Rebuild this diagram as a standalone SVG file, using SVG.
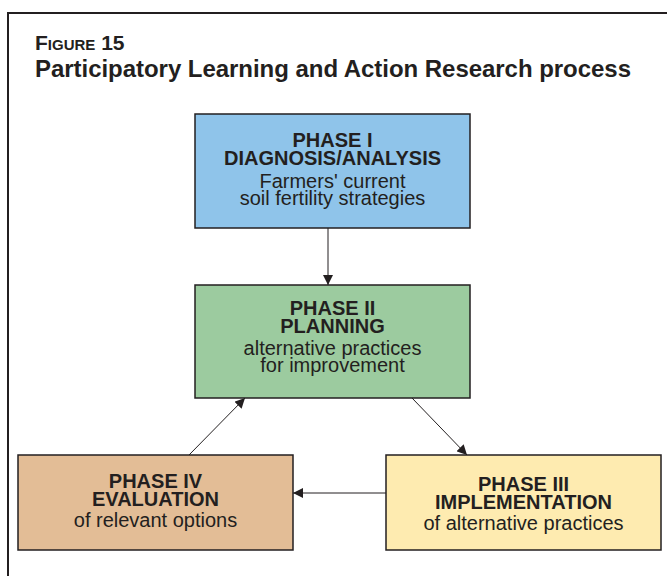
<svg xmlns="http://www.w3.org/2000/svg" width="667" height="576" viewBox="0 0 667 576">
  <defs>
    <marker id="arrow" viewBox="0 0 10 10" refX="10" refY="5" markerWidth="10" markerHeight="10" markerUnits="userSpaceOnUse" orient="auto">
      <path d="M0,0 L10,5 L0,10 z" fill="#231f20"/>
    </marker>
    <style>
      .box { stroke: #231f20; stroke-width: 1.5; }
      .t { font-family: "Liberation Sans", Arial, sans-serif; fill: #231f20; text-anchor: middle; font-size: 20px; }
      .b { font-weight: bold; }
      .link { stroke: #231f20; stroke-width: 1; fill: none; marker-end: url(#arrow); }
    </style>
  </defs>
  <rect width="667" height="576" fill="#ffffff"/>
  <!-- outer frame -->
  <rect x="8" y="13" width="680" height="600" fill="none" stroke="#231f20" stroke-width="2"/>
  <!-- heading -->
  <g id="title" font-family="Liberation Sans, Arial, sans-serif" font-weight="bold" fill="#231f20">
    <text x="35" y="50" font-size="21">F<tspan font-size="15">IGURE</tspan> 15</text>
    <text x="35" y="77" font-size="24" textLength="596">Participatory Learning and Action Research process</text>
  </g>
  <g id="connectors">
    <line class="link" x1="328" y1="228" x2="328" y2="285"/>
    <line class="link" x1="412" y1="398" x2="467" y2="455"/>
    <line class="link" x1="386" y1="493" x2="293" y2="493"/>
    <line class="link" x1="189" y1="455" x2="245" y2="398"/>
  </g>
  <g id="phase1">
    <rect class="box" x="195" y="114" width="275" height="114" fill="#8fc4ea"/>
    <text class="t b" x="332.5" y="147">PHASE I</text>
    <text class="t b" x="332.5" y="165">DIAGNOSIS/ANALYSIS</text>
    <text class="t" x="332.5" y="188">Farmers' current</text>
    <text class="t" x="332.5" y="205">soil fertility strategies</text>
  </g>
  <g id="phase2">
    <rect class="box" x="195" y="285" width="275" height="113" fill="#9ccb9f"/>
    <text class="t b" x="332.5" y="315">PHASE II</text>
    <text class="t b" x="332.5" y="333">PLANNING</text>
    <text class="t" x="332.5" y="355">alternative practices</text>
    <text class="t" x="332.5" y="372">for improvement</text>
  </g>
  <g id="phase3">
    <rect class="box" x="386" y="455" width="275" height="95" fill="#feebb0"/>
    <text class="t b" x="523.5" y="491">PHASE III</text>
    <text class="t b" x="523.5" y="509">IMPLEMENTATION</text>
    <text class="t" x="523.5" y="530">of alternative practices</text>
  </g>
  <g id="phase4">
    <rect class="box" x="18" y="455" width="275" height="95" fill="#e3bd96"/>
    <text class="t b" x="155.5" y="488">PHASE IV</text>
    <text class="t b" x="155.5" y="506">EVALUATION</text>
    <text class="t" x="155.5" y="527">of relevant options</text>
  </g>
</svg>
